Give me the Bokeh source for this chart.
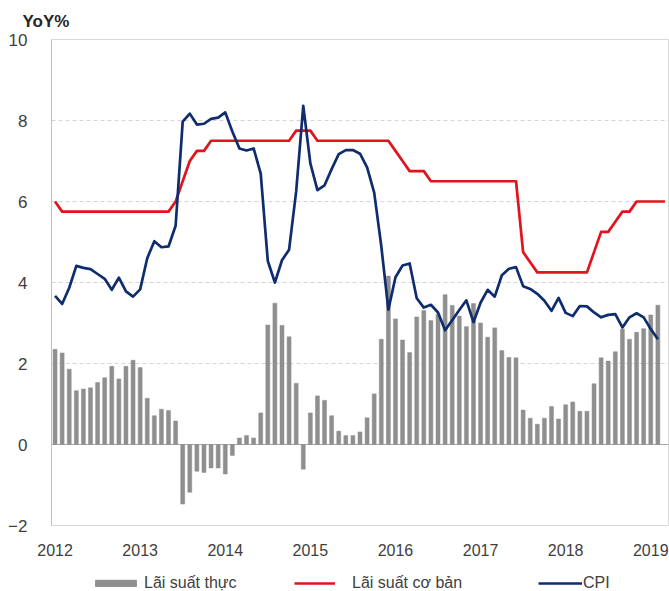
from bokeh.plotting import figure
from bokeh.models import ColumnDataSource, FixedTicker, Legend, LegendItem, Span
from bokeh.layouts import column
from bokeh.embed import file_html
from bokeh.resources import INLINE

# ---------------- data (monthly, Jan 2012 onwards) ----------------
year_labels = ["2012", "2013", "2014", "2015", "2016", "2017", "2018", "2019"]
year_tick_pos = [0, 12, 24, 36, 48, 60, 72, 84]   # January of each year

# Real interest rate (bars), Jan 2012 - Feb 2019
real_rate = [2.35, 2.26, 1.86, 1.33, 1.37, 1.40, 1.53, 1.65, 1.93, 1.62, 1.93, 2.08,
             1.90, 1.14, 0.71, 0.87, 0.84, 0.58, -1.47, -1.18, -0.66, -0.69, -0.58, -0.58,
             -0.73, -0.27, 0.16, 0.22, 0.16, 0.78, 2.95, 3.49, 2.94, 2.66, 1.51, -0.61,
             0.78, 1.20, 1.09, 0.71, 0.33, 0.22, 0.22, 0.31, 0.66, 1.25, 2.60, 4.16,
             3.10, 2.58, 2.27, 3.15, 3.31, 3.06, 3.21, 3.70, 3.43, 3.17, 2.91, 3.48,
             3.00, 2.65, 2.88, 2.32, 2.15, 2.14, 0.85, 0.65, 0.50, 0.65, 0.94, 0.63,
             0.98, 1.05, 0.82, 0.82, 1.50, 2.14, 2.06, 2.29, 2.85, 2.60, 2.77, 2.86,
             3.20, 3.44]

# Base rate (red line), Jan 2012 - Mar 2019
base_rate = [6.00, 5.75, 5.75, 5.75, 5.75, 5.75, 5.75, 5.75, 5.75, 5.75, 5.75, 5.75,
             5.75, 5.75, 5.75, 5.75, 5.75, 6.00, 6.50, 7.00, 7.25, 7.25, 7.50, 7.50,
             7.50, 7.50, 7.50, 7.50, 7.50, 7.50, 7.50, 7.50, 7.50, 7.50, 7.75, 7.75,
             7.75, 7.50, 7.50, 7.50, 7.50, 7.50, 7.50, 7.50, 7.50, 7.50, 7.50, 7.50,
             7.25, 7.00, 6.75, 6.75, 6.75, 6.50, 6.50, 6.50, 6.50, 6.50, 6.50, 6.50,
             6.50, 6.50, 6.50, 6.50, 6.50, 6.50, 4.75, 4.50, 4.25, 4.25, 4.25, 4.25,
             4.25, 4.25, 4.25, 4.25, 4.75, 5.25, 5.25, 5.50, 5.75, 5.75, 6.00, 6.00,
             6.00, 6.00, 6.00]

# CPI YoY (navy line), Jan 2012 - Feb 2019
cpi = [3.67, 3.47, 3.87, 4.41, 4.36, 4.33, 4.21, 4.09, 3.82, 4.12, 3.78, 3.65,
       3.83, 4.60, 5.02, 4.87, 4.89, 5.40, 7.97, 8.17, 7.90, 7.92, 8.04, 8.07,
       8.20, 7.73, 7.31, 7.26, 7.31, 6.69, 4.53, 4.00, 4.55, 4.81, 6.25, 8.36,
       6.94, 6.28, 6.40, 6.80, 7.17, 7.27, 7.27, 7.18, 6.84, 6.22, 4.90, 3.33,
       4.13, 4.42, 4.47, 3.61, 3.38, 3.45, 3.26, 2.82, 3.07, 3.32, 3.56, 3.02,
       3.50, 3.82, 3.65, 4.18, 4.34, 4.38, 3.91, 3.84, 3.72, 3.55, 3.30, 3.62,
       3.25, 3.17, 3.42, 3.41, 3.26, 3.14, 3.20, 3.22, 2.89, 3.14, 3.24, 3.14,
       2.85, 2.60]

series_names = ["Lãi suất thực", "Lãi suất cơ bản", "CPI"]
y_ticks = [-2, 0, 2, 4, 6, 8, 10]
unit_label = "YoY%"

# ---------------- styles ----------------
FONT = "Liberation Sans"
TXT = "#404040"
BAR_COLOR = "#8f8f8f"
RED = "#e0141c"
NAVY = "#0f2d6e"
NAN = float("nan")

# ---------------- main chart ----------------
p = figure(width=669, height=560, x_range=(-0.5, 86.5), y_range=(-2, 10),
           output_backend="svg", toolbar_location=None,
           min_border_left=51, min_border_right=1, min_border_top=39,
           min_border_bottom=35, title=unit_label)
p.background_fill_color = "white"
p.border_fill_color = "white"
p.outline_line_color = "#d9d9d9"
p.outline_line_width = 1

p.title.align = "left"
p.title.offset = -29
p.title.standoff = 18
p.title.text_font = FONT
p.title.text_font_size = "17px"
p.title.text_font_style = "bold"
p.title.text_color = "#262626"

bar_src = ColumnDataSource(dict(x=list(range(len(real_rate))), y=real_rate))
base_src = ColumnDataSource(dict(x=list(range(len(base_rate))), y=base_rate))
cpi_src = ColumnDataSource(dict(x=list(range(len(cpi))), y=cpi))

p.add_layout(Span(location=0, dimension="width", line_color="#a6a6a6",
                  line_width=1.2, level="underlay"))

r_bar = p.vbar(x="x", top="y", bottom=0, width=0.56, source=bar_src,
               fill_color=BAR_COLOR, line_color=BAR_COLOR, line_width=0.5)
r_base = p.line("x", "y", source=base_src, line_color=RED, line_width=2.7,
                line_join="round")
r_cpi = p.line("x", "y", source=cpi_src, line_color=NAVY, line_width=2.7,
               line_join="round")

p.xaxis.ticker = FixedTicker(ticks=year_tick_pos)
p.xaxis.major_label_overrides = {pos: lab for pos, lab in zip(year_tick_pos, year_labels)}
p.xaxis.axis_line_color = None
p.xaxis.major_tick_line_color = None
p.xaxis.minor_tick_line_color = None
p.xaxis.major_label_standoff = 12
p.xaxis.major_label_text_font = FONT
p.xaxis.major_label_text_font_size = "16px"
p.xaxis.major_label_text_color = TXT

p.yaxis.ticker = FixedTicker(ticks=y_ticks)
p.yaxis.axis_line_color = "#bfbfbf"
p.yaxis.major_tick_line_color = None
p.yaxis.minor_tick_line_color = None
p.yaxis.major_label_standoff = 18
p.yaxis.major_label_text_font = FONT
p.yaxis.major_label_text_font_size = "17px"
p.yaxis.major_label_text_color = TXT

p.xgrid.visible = False
p.ygrid.ticker = FixedTicker(ticks=[2, 4, 6, 8])
p.ygrid.grid_line_color = "#d4d4d4"
p.ygrid.grid_line_dash = "4 3"
p.ygrid.grid_line_width = 1

# ---------------- legend strip (frame aligned with the chart above) ----------------
q = figure(width=669, height=31, x_range=(0, 1), y_range=(0, 1),
           output_backend="svg", toolbar_location=None,
           x_axis_type=None, y_axis_type=None,
           min_border_left=0, min_border_right=0, min_border_top=0,
           min_border_bottom=0)
q.outline_line_color = None
q.grid.visible = False
q.background_fill_color = "white"
q.border_fill_color = "white"

# legend proxies (styled like the chart series, no visible data)
k_bar = q.vbar(x=[NAN], top=[NAN], width=0.5, fill_color=BAR_COLOR, line_color=BAR_COLOR)
k_base = q.line(x=[NAN], y=[NAN], line_color=RED, line_width=2.7)
k_cpi = q.line(x=[NAN], y=[NAN], line_color=NAVY, line_width=2.7)

def add_entry(label, rend, x0, gw, standoff):
    lg = Legend(items=[LegendItem(label=label, renderers=[rend])],
                location=(x0, -1), orientation="horizontal",
                glyph_width=gw, glyph_height=8, label_height=8,
                label_standoff=standoff, padding=0, margin=0, spacing=0,
                border_line_color=None, background_fill_alpha=0,
                label_text_font=FONT, label_text_font_size="16px",
                label_text_color=TXT)
    q.add_layout(lg, "center")

add_entry(series_names[0], k_bar, 39, 51, 3)
add_entry(series_names[1], k_base, 243, 41, 17)
add_entry(series_names[2], k_cpi, 487, 44, 1)

layout = column(p, q, spacing=0)
open("out.html", "w").write(file_html(layout, INLINE))
